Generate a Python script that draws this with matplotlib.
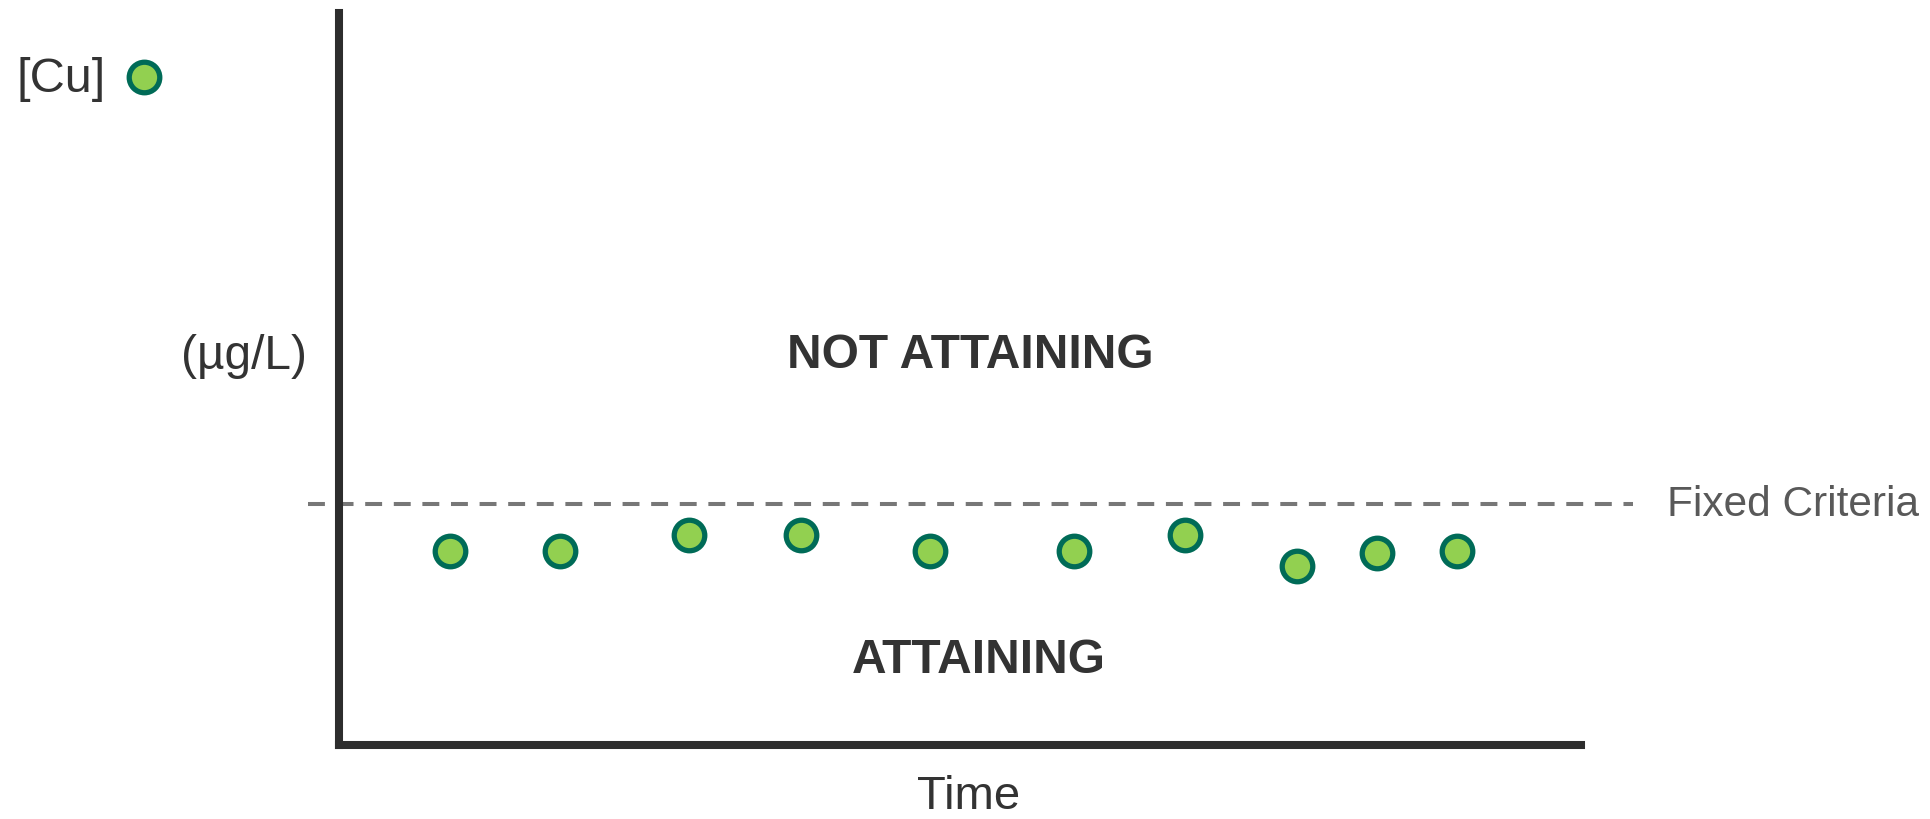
import matplotlib
matplotlib.use("Agg")
import matplotlib.pyplot as plt

# sample times and copper concentrations (arbitrary units)
sample_time = [8.9, 17.8, 28.2, 37.2, 47.6, 59.2, 68.1, 77.1, 83.6, 90.0]
cu_conc = [26.5, 26.5, 28.7, 28.7, 26.5, 26.5, 28.7, 24.4, 26.2, 26.5]
criteria_level = 32.9
region_labels = ["NOT ATTAINING", "ATTAINING"]

plt.rcParams['font.family'] = ['Liberation Sans', 'DejaVu Sans']

fill_col = "#92d050"
edge_col = "#006b57"
axis_col = "#2d2d2d"
text_col = "#333333"

fig = plt.figure(figsize=(19.31, 8.2), dpi=100)
ax = fig.add_axes([0.1756, 0.0902, 0.6432, 0.8927])
ax.set_xlim(0, 100)
ax.set_ylim(0, 100)

for side in ["top", "right"]:
    ax.spines[side].set_visible(False)
for side in ["left", "bottom"]:
    ax.spines[side].set_linewidth(5.8)
    ax.spines[side].set_color(axis_col)
ax.set_xticks([])
ax.set_yticks([])

# fixed criteria line runs a bit past both ends of the axes
ax.plot([-2.5, 104.2], [criteria_level, criteria_level], color="#777777",
        lw=2.9, linestyle=(0, (4.2, 2.9)), clip_on=False, zorder=2)
ax.text(106.9, criteria_level, "Fixed Criteria", fontsize=30.5, color="#595959",
        va="center", ha="left", clip_on=False)

ax.plot(sample_time, cu_conc, linestyle="none", marker="o", ms=22,
        mfc=fill_col, mec=edge_col, mew=3.8, zorder=3)

ax.text(50.8, 53.3, region_labels[0], fontsize=34.5, fontweight="bold",
        color=text_col, ha="center", va="center")
ax.text(51.5, 11.7, region_labels[1], fontsize=34.5, fontweight="bold",
        color=text_col, ha="center", va="center")

# axis labels / legend as free text
fig.text(969 / 1931, 1 - 797 / 820, "Time", fontsize=34, color=text_col,
         ha="center", va="center")
fig.text(244 / 1931, 1 - 357 / 820, "(µg/L)", fontsize=34.5, color=text_col,
         ha="center", va="center")
fig.text(61 / 1931, 1 - 80 / 820, "[Cu]", fontsize=35, color=text_col,
         ha="center", va="center")
fig.lines.append(plt.Line2D([144 / 1931], [1 - 78 / 820], transform=fig.transFigure,
                            marker="o", ms=22, mfc=fill_col, mec=edge_col, mew=3.8,
                            linestyle="none"))

fig.savefig("out.png", dpi=100, facecolor="white")
